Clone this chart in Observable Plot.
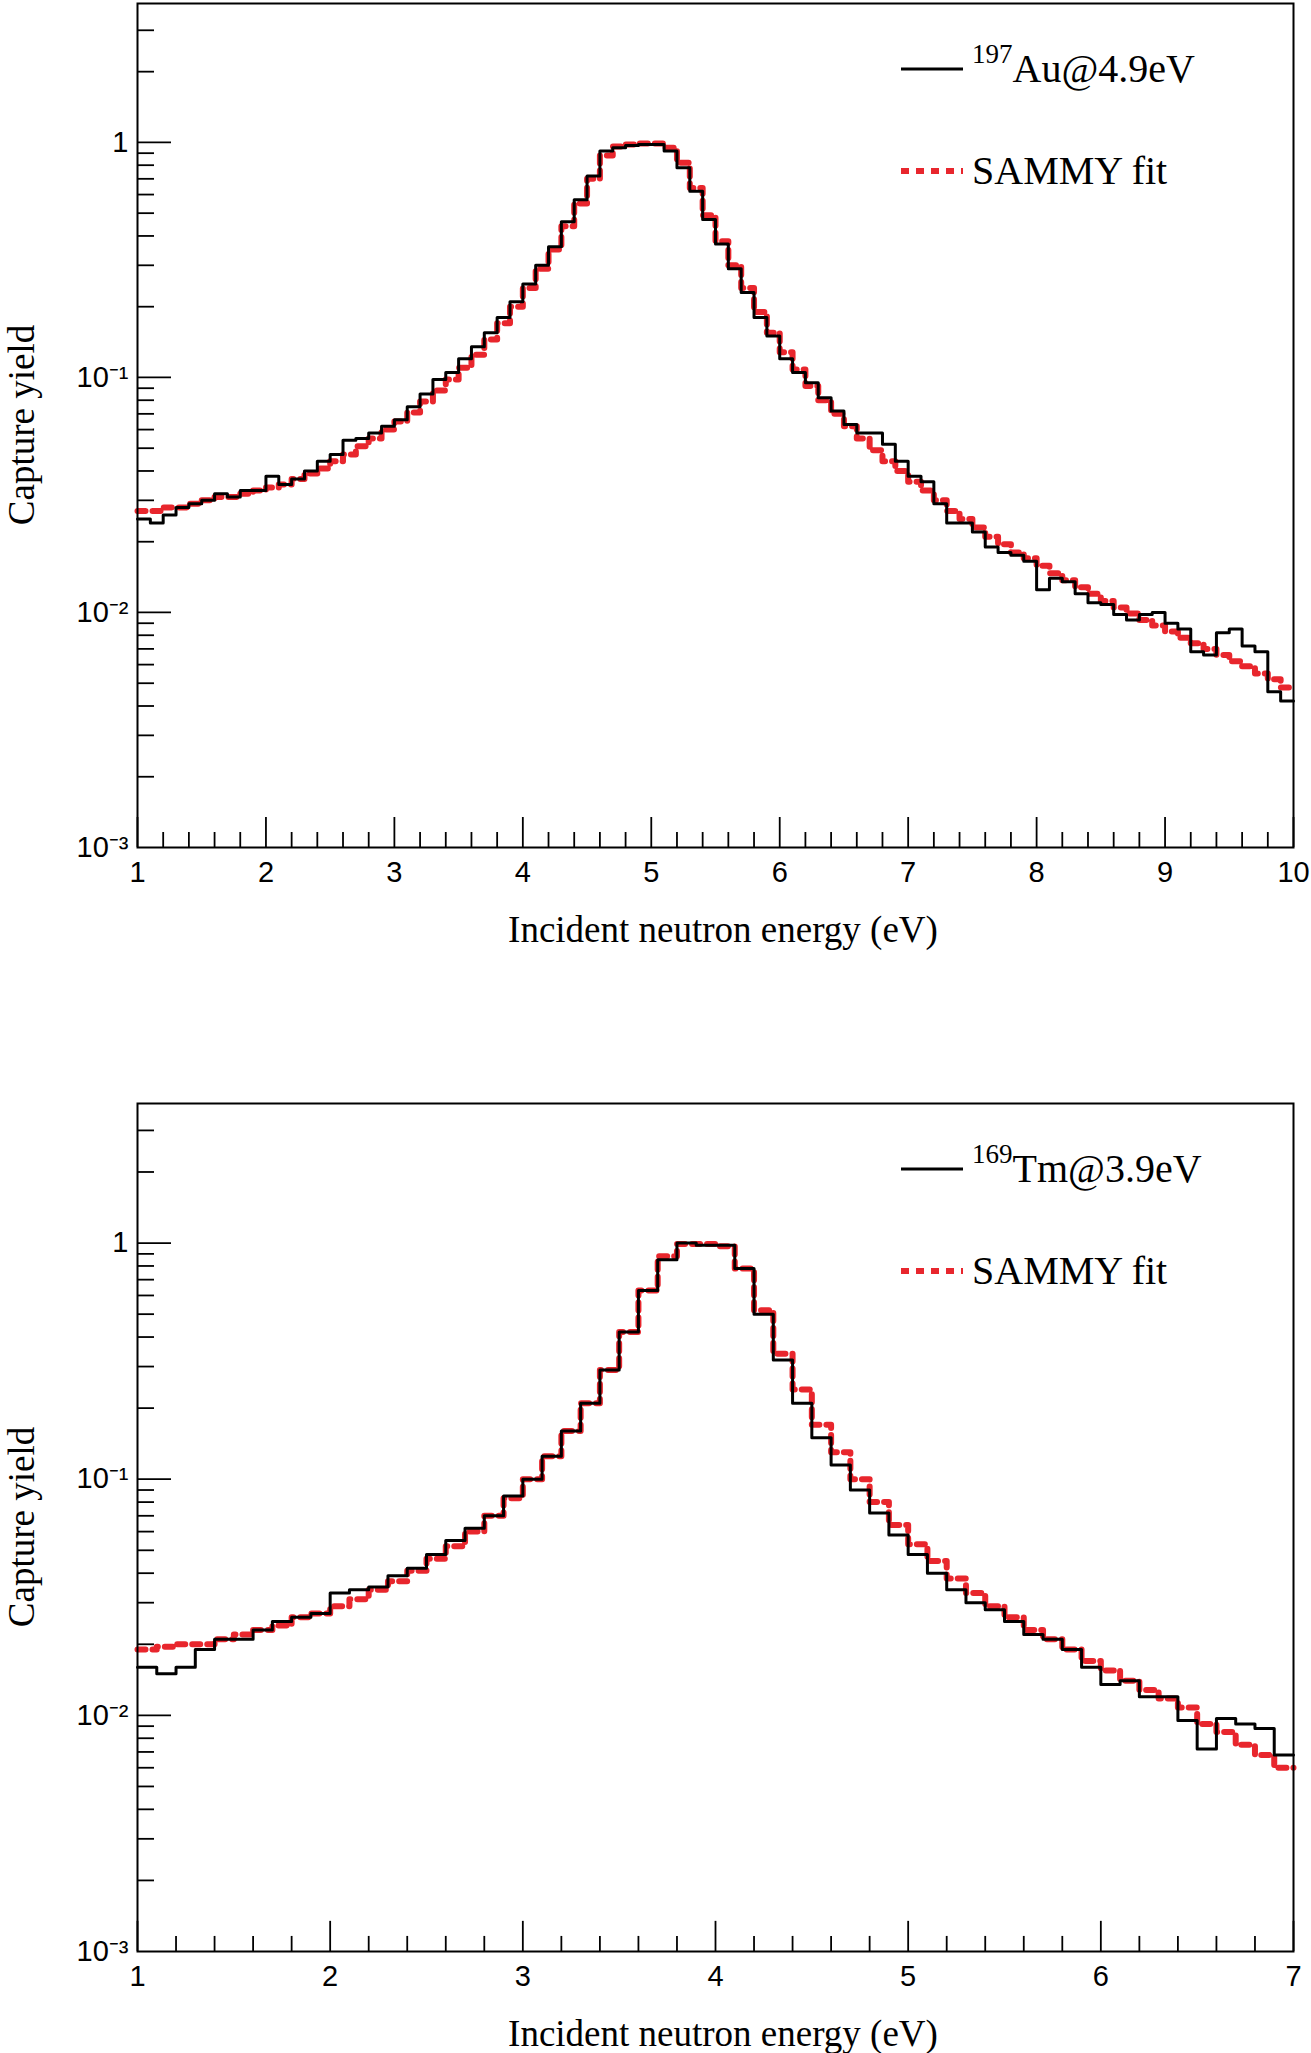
<!DOCTYPE html>
<html><head><meta charset="utf-8">
<script src="https://cdn.jsdelivr.net/npm/d3@7"></script>
<script src="https://cdn.jsdelivr.net/npm/@observablehq/plot@0.6"></script>
<style>body{margin:0;background:#fff}svg{display:block}</style>
</head><body><div id="c"></div>
<script>
const auStart = 1.0, binW = 0.1;
const auData = [0.025,0.024,0.026,0.028,0.029,0.030,0.032,0.031,0.033,0.033,
0.038,0.035,0.037,0.040,0.044,0.047,0.054,0.055,0.058,0.062,
0.066,0.075,0.085,0.098,0.105,0.12,0.135,0.155,0.18,0.21,
0.25,0.30,0.36,0.46,0.57,0.72,0.92,0.95,0.97,0.98,
0.98,0.92,0.78,0.62,0.47,0.37,0.29,0.23,0.18,0.15,
0.12,0.105,0.095,0.082,0.072,0.063,0.058,0.058,0.052,0.044,
0.038,0.036,0.029,0.024,0.024,0.022,0.019,0.018,0.0175,0.0165,
0.0125,0.014,0.0135,0.012,0.011,0.0108,0.0098,0.0093,0.0098,0.010,
0.009,0.0085,0.0068,0.0066,0.0082,0.0085,0.0072,0.0068,0.0046,0.0042];
const auFit = [0.027,0.027,0.028,0.028,0.029,0.030,0.031,0.031,0.032,0.033,
0.034,0.035,0.037,0.039,0.041,0.044,0.047,0.051,0.055,0.060,
0.065,0.071,0.079,0.088,0.098,0.11,0.125,0.145,0.17,0.20,
0.24,0.29,0.35,0.44,0.55,0.70,0.88,0.96,0.98,0.99,
0.99,0.95,0.82,0.64,0.49,0.38,0.30,0.24,0.19,0.155,
0.128,0.108,0.092,0.080,0.070,0.062,0.055,0.049,0.044,0.040,
0.036,0.033,0.030,0.027,0.025,0.023,0.021,0.0195,0.018,0.017,
0.0158,0.0147,0.0137,0.0128,0.012,0.0112,0.0105,0.0099,0.0093,0.0088,
0.0083,0.0078,0.0074,0.007,0.0066,0.0062,0.0059,0.0055,0.0052,0.0048];
const tmData = [0.016,0.015,0.016,0.019,0.021,0.021,0.023,0.025,0.026,0.027,
0.033,0.034,0.035,0.039,0.042,0.048,0.055,0.062,0.070,0.085,
0.10,0.125,0.16,0.21,0.29,0.42,0.63,0.85,1.0,0.98,
0.98,0.78,0.50,0.32,0.21,0.15,0.115,0.09,0.072,0.058,
0.048,0.040,0.034,0.030,0.028,0.025,0.022,0.021,0.019,0.016,
0.0135,0.014,0.012,0.012,0.0095,0.0072,0.0097,0.0092,0.0088,0.0068];
const tmFit = [0.019,0.0195,0.020,0.020,0.021,0.022,0.023,0.024,0.026,0.027,
0.029,0.031,0.034,0.037,0.041,0.046,0.052,0.060,0.070,0.083,
0.10,0.125,0.16,0.21,0.29,0.42,0.63,0.88,0.99,0.99,
0.97,0.78,0.52,0.34,0.24,0.17,0.13,0.10,0.08,0.064,
0.053,0.045,0.038,0.033,0.029,0.026,0.023,0.021,0.019,0.017,
0.0155,0.014,0.0128,0.0118,0.0108,0.0092,0.0085,0.0075,0.0068,0.0060];
const yMajor = [0.001,0.01,0.1,1];
const yTickLabels = {0.001:"10⁻³",0.01:"10⁻²",0.1:"10⁻¹",1:"1"};

function steps(vals, x0){
  const pts = vals.map((v,i)=>({x:+(x0+i*binW).toFixed(2), y:v}));
  pts.push({x:+(x0+vals.length*binW).toFixed(2), y:vals[vals.length-1]});
  return pts;
}

function makeChart({data, fit, xmax, xTicks, label, height, top, bottom}){
  const W=1311, mL=137, mR=18;
  const plotH = height-top-bottom;
  const yMinor = [];
  for (const d of [0.001,0.01,0.1,1]) for (let k=2;k<=9;k++) if (d*k<3.9) yMinor.push(d*k);
  const xMinor = d3.range(1, xmax+0.001, 0.2).filter(v=>Math.abs(v-Math.round(v))>1e-6);
  const pxPerX = (W-mL-mR)/(xmax-1);
  const svg = Plot.plot({
    width: W, height, marginLeft: mL, marginRight: mR, marginTop: top, marginBottom: bottom,
    style:{background:"#fff"},
    x:{domain:[1,xmax]}, y:{type:"log", domain:[1e-3,3.9]},
    marks:[
      Plot.ruleY(yMajor.slice(1),{x1:1,x2:1+34/pxPerX,stroke:"#000",strokeWidth:1.8}),
      Plot.ruleY(yMinor,{x1:1,x2:1+17/pxPerX,stroke:"#000",strokeWidth:1.8}),
      Plot.ruleX(xTicks,{x:d=>d,y1:1e-3,y2:1e-3*Math.pow(10,30/235),stroke:"#000",strokeWidth:1.8}),
      Plot.ruleX(xMinor,{x:d=>d,y1:1e-3,y2:1e-3*Math.pow(10,15/235),stroke:"#000",strokeWidth:1.8}),
      Plot.line(steps(fit,1),{x:"x",y:"y",curve:"step-after",stroke:"#e8262d",strokeWidth:6,strokeDasharray:"8 7"}),
      Plot.line(steps(data,1),{x:"x",y:"y",curve:"step-after",stroke:"#000",strokeWidth:3}),
      Plot.axisX(xTicks,{tickSize:0,tickPadding:14,fontSize:29,fontFamily:"Liberation Sans",label:null,tickFormat:d=>String(d)}),
      Plot.axisY(yMajor,{tickSize:0,tickPadding:9,fontSize:29,fontFamily:"Liberation Sans",label:null,tickFormat:d=>yTickLabels[d]}),
      Plot.frame({stroke:"#000",strokeWidth:2})
    ]
  });
  const s = d3.select(svg);
  s.selectAll('g[aria-label^="x-axis"] text, g[aria-label^="y-axis"] text').attr("fill","#000");
  const serif = "Liberation Serif";
  s.append("text").attr("x",mL+(W-mL-mR)/2+8).attr("y",top+plotH+95).attr("text-anchor","middle")
    .attr("font-family",serif).attr("font-size",37).text("Incident neutron energy (eV)");
  s.append("text").attr("transform",`translate(34,${top+plotH/2}) rotate(-90)`).attr("text-anchor","middle")
    .attr("font-family",serif).attr("font-size",37).text("Capture yield");
  // legend
  const ly1 = top+66, ly2 = top+168;
  s.append("line").attr("x1",901).attr("x2",963).attr("y1",ly1).attr("y2",ly1).attr("stroke","#000").attr("stroke-width",3);
  s.append("line").attr("x1",901).attr("x2",963).attr("y1",ly2).attr("y2",ly2).attr("stroke","#e8262d").attr("stroke-width",6).attr("stroke-dasharray","8 7");
  const t1 = s.append("text").attr("x",972).attr("y",ly1+13).attr("text-anchor","start").attr("font-family",serif).attr("font-size",40);
  t1.append("tspan").attr("font-size",27).attr("dy","-0.7em").text(label[0]);
  t1.append("tspan").attr("dy","0.47em").text(label[1]);
  s.append("text").attr("x",972).attr("y",ly2+13).attr("text-anchor","start").attr("font-family",serif).attr("font-size",40).text("SAMMY fit");
  return svg;
}
const c = document.getElementById("c");
c.append(makeChart({data:auData, fit:auFit, xmax:10, xTicks:d3.range(1,11), label:["197","Au@4.9eV"], height:960, top:3, bottom:113}));
c.append(makeChart({data:tmData, fit:tmFit, xmax:7, xTicks:d3.range(1,8), label:["169","Tm@3.9eV"], height:1093, top:143, bottom:102}));
</script></body></html>
